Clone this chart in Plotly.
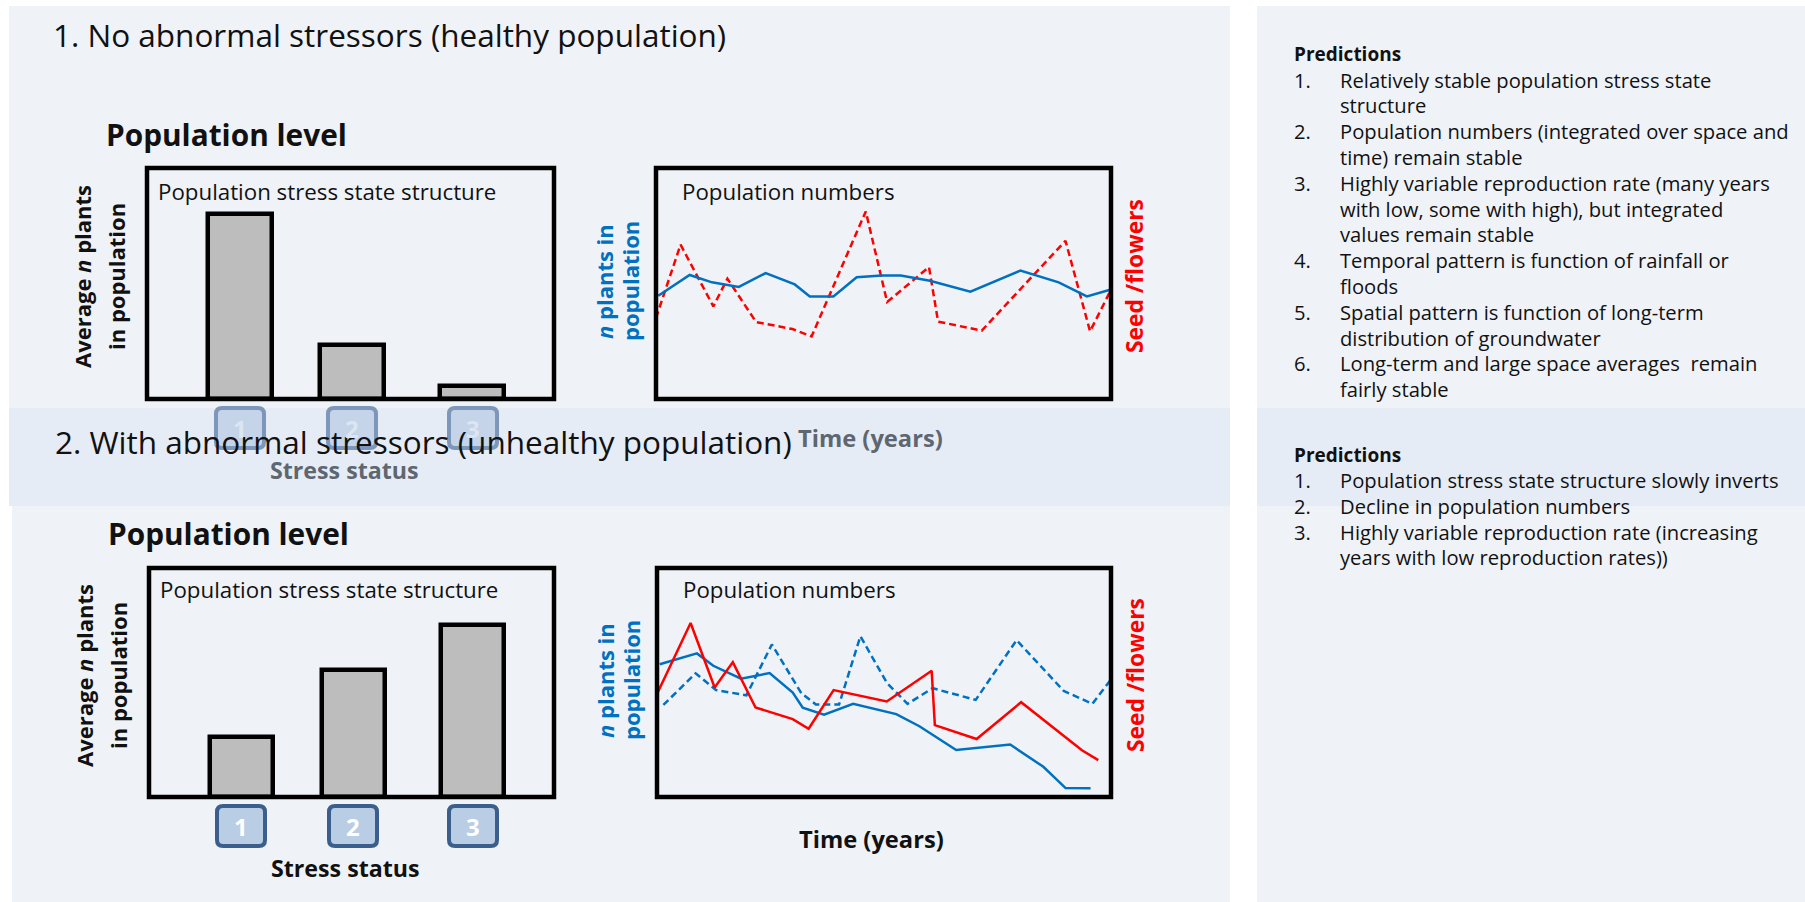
import plotly.graph_objects as go

W, H = 1805, 902

# ---------- data ----------
stress_labels = ["1", "2", "3"]
bar_pos = [22.8, 50.4, 79.9]
bars_healthy = [80, 23.4, 5.8]
bars_unhealthy = [26.3, 55.3, 75]

t_plants_a = [0.5, 7.4, 12.3, 18.2, 24.1, 30.5, 33.8, 39.0, 44.1, 49.6, 53.8, 60.2, 69.1, 80.1, 88.5, 94.7, 99.8]
plants_a = [44.7, 53.7, 50.5, 48.5, 54.5, 49.6, 44.4, 44.4, 52.7, 53.5, 53.5, 51.2, 46.5, 55.6, 50.5, 44.4, 47.3]
t_seed_a = [0, 5.4, 12.6, 15.7, 22.0, 30.0, 34.2, 46.1, 50.8, 60.0, 62.0, 71.6, 90.0, 95.4, 100]
seed_a = [35.1, 66.8, 40.1, 52.1, 33.3, 30.3, 27.1, 81.2, 42.0, 57.1, 33.5, 29.6, 68.5, 29.3, 47.3]

t_plants_b = [0.6, 8.8, 12.4, 18.5, 24.8, 29.9, 32.1, 36.8, 43.2, 49.1, 52.7, 57.8, 65.9, 77.8, 85.1, 90.0, 95.5]
plants_b = [58.0, 62.7, 57.3, 51.7, 54.1, 45.6, 39.0, 35.9, 40.7, 38.1, 36.2, 30.9, 20.5, 22.9, 13.2, 3.9, 3.8]
t_ref_b = [1.4, 8.5, 13.0, 19.7, 25.3, 31.8, 35.0, 40.1, 44.8, 50.7, 55.2, 60.7, 70.2, 79.2, 89.6, 95.9, 101]
ref_b = [40.2, 54.0, 46.7, 44.4, 66.6, 45.3, 40.4, 40.4, 70.2, 49.6, 40.7, 47.5, 42.4, 68.5, 46.3, 40.7, 54.0]
t_seed_b = [0, 7.4, 12.7, 16.7, 21.7, 29.9, 33.4, 38.9, 50.6, 60.5, 61.2, 70.4, 80.2, 87.3, 93.6, 97.2]
seed_b = [45.0, 76.0, 47.8, 58.9, 39.1, 34.0, 29.8, 46.7, 41.7, 55.1, 31.4, 25.3, 41.4, 30.1, 20.4, 16.1]

pred_a = ["Relatively stable population stress state", "structure",
          "Population numbers (integrated over space and", "time) remain stable",
          "Highly variable reproduction rate (many years", "with low, some with high), but integrated", "values remain stable",
          "Temporal pattern is function of rainfall or", "floods",
          "Spatial pattern is function of long-term", "distribution of groundwater",
          "Long-term and large space averages  remain", "fairly stable"]
pred_a_nums = {0: "1.", 2: "2.", 4: "3.", 7: "4.", 9: "5.", 11: "6."}
pred_b = ["Population stress state structure slowly inverts", "Decline in population numbers",
          "Highly variable reproduction rate (increasing", "years with low reproduction rates))"]
pred_b_nums = {0: "1.", 1: "2.", 2: "3."}

# ---------- style ----------
FONT = "Open Sans"
PANEL = "#EFF3F8"
BAND = "#E6ECF5"
BLUE = "#0070C0"
RED = "#FF0000"
INK = "#111111"
GRAY = "#5E6670"

px = lambda v: v / W
py = lambda v: 1 - v / H

fig = go.Figure()
shapes, ann = [], []

def rect(x0, y0, x1, y1, fill, layer="below"):
    shapes.append(dict(type="rect", xref="paper", yref="paper", x0=px(x0), x1=px(x1), y0=py(y1), y1=py(y0),
                       fillcolor=fill, line_width=0, layer=layer))

def text(x, y, s, size, color=INK, bold=False, anchor="left", angle=0):
    if bold:
        s = "<b>" + s + "</b>"
    ann.append(dict(xref="paper", yref="paper", x=px(x), y=py(y), text=s, showarrow=False,
                    xanchor=anchor, yanchor="middle", align="center", textangle=angle, borderpad=0,
                    font=dict(family=FONT, size=size, color=color)))

def badge(cx, cy, fill, edge, digit, txtcol):
    c = 6
    xl, xr, yt, yb = cx - 24, cx + 24, cy - 20, cy + 20
    path = (f"M {px(xl+c)} {py(yt)} L {px(xr-c)} {py(yt)} Q {px(xr)} {py(yt)} {px(xr)} {py(yt+c)} "
            f"L {px(xr)} {py(yb-c)} Q {px(xr)} {py(yb)} {px(xr-c)} {py(yb)} L {px(xl+c)} {py(yb)} "
            f"Q {px(xl)} {py(yb)} {px(xl)} {py(yb-c)} L {px(xl)} {py(yt+c)} Q {px(xl)} {py(yt)} {px(xl+c)} {py(yt)} Z")
    shapes.append(dict(type="path", path=path, xref="paper", yref="paper", fillcolor=fill,
                       line=dict(color=edge, width=4), layer="above"))
    text(cx, cy, digit, 24, txtcol, True, "center")

# backgrounds
rect(9, 6, 1230, 408, PANEL)
rect(9, 408, 1230, 506, BAND)
rect(12, 506, 1230, 902, PANEL)
rect(1257, 6, 1805, 408, PANEL)
rect(1257, 408, 1805, 506, BAND)
rect(1257, 506, 1805, 902, PANEL)

# axes
boxes = [("", 147, 168, 554, 399), ("2", 656, 168, 1111, 399),
         ("3", 149, 568, 554, 797), ("4", 657, 568, 1111, 797)]
for suf, x0, y0, x1, y1 in boxes:
    fig.layout["xaxis" + suf] = dict(domain=[px(x0), px(x1)], range=[0, 100], visible=False, fixedrange=True,
                                     anchor="y" + suf)
    fig.layout["yaxis" + suf] = dict(domain=[py(y1), py(y0)], range=[0, 100], visible=False, fixedrange=True,
                                     anchor="x" + suf)

for vals, xa, ya in [(bars_healthy, "x", "y"), (bars_unhealthy, "x3", "y3")]:
    fig.add_trace(go.Bar(x=bar_pos, y=vals, width=15.6, xaxis=xa, yaxis=ya,
                         marker=dict(color="#BDBDBD", line=dict(color="black", width=4.5))))

def line(tv, v, xa, ya, color, dash="solid"):
    fig.add_trace(go.Scatter(x=tv, y=v, xaxis=xa, yaxis=ya, mode="lines", cliponaxis=False,
                             line=dict(color=color, width=2.5, dash=dash)))

line(t_seed_a, seed_a, "x2", "y2", RED, "7px,4px")
line(t_plants_a, plants_a, "x2", "y2", BLUE)
line(t_ref_b, ref_b, "x4", "y4", BLUE, "7px,4px")
line(t_plants_b, plants_b, "x4", "y4", BLUE)
line(t_seed_b, seed_b, "x4", "y4", RED)

# frames
for suf, *_ in boxes:
    shapes.append(dict(type="rect", xref=f"x{suf} domain", yref=f"y{suf} domain", x0=0, x1=1, y0=0, y1=1,
                       line=dict(color="black", width=4.5), layer="above"))

# titles
text(52, 34, "1. No abnormal stressors (healthy population)", 31.5)
text(54, 441, "2. With abnormal stressors (unhealthy population)", 31.5)
text(105, 134, "Population level", 29.8, INK, True)
text(107, 533, "Population level", 29.8, INK, True)
text(157, 191, "Population stress state structure", 22.3)
text(159, 589, "Population stress state structure", 22.3)
text(681, 191, "Population numbers", 22.3)
text(682, 589, "Population numbers", 22.3)

# rotated labels
for dy, xs in ((0, (82, 116, 604, 630, 1135)), (399, (84, 118, 605, 631, 1135))):
    text(xs[0], 277 + dy, "<b>Average <i>n</i> plants</b>", 22, INK, False, "center", -90)
    text(xs[1], 277 + dy, "<b>in population</b>", 22, INK, False, "center", -90)
    text(xs[2], 282 + dy, "<b><i>n</i> plants in</b>", 22, BLUE, False, "center", -90)
    text(xs[3], 281 + dy, "<b>population</b>", 22, BLUE, False, "center", -90)
    text(xs[4], 276 + dy, "Seed /flowers", 22.8, RED, True, "center", -90)

# badges + axis titles
for cx, d in zip([240, 352, 473], stress_labels):
    badge(cx, 428, "#C5D4E8", "#7C97BA", d, "#DCE6F2")
for cx, d in zip([241, 353, 473], stress_labels):
    badge(cx, 826, "#B9CDE5", "#3B5F8C", d, "white")
text(344, 470, "Stress status", 23.2, GRAY, True, "center")
text(345, 868, "Stress status", 23.2, INK, True, "center")
text(870, 438, "Time (years)", 23.7, GRAY, True, "center")
text(871, 839, "Time (years)", 23.7, INK, True, "center")

# predictions
PRED = 20.2
text(1293, 54, "Predictions", 19, INK, True)
for i, s in enumerate(pred_a):
    y = 79.6 + i * 25.8
    if i in pred_a_nums:
        text(1293, y, pred_a_nums[i], PRED)
    text(1339, y, s, PRED)
text(1293, 455, "Predictions", 19, INK, True)
for i, s in enumerate(pred_b):
    y = 480 + i * 25.8
    if i in pred_b_nums:
        text(1293, y, pred_b_nums[i], PRED)
    text(1339, y, s, PRED)

fig.update_layout(width=W, height=H, margin=dict(l=0, r=0, t=0, b=0), showlegend=False,
                  paper_bgcolor="white", plot_bgcolor="rgba(0,0,0,0)", shapes=shapes, annotations=ann,
                  bargap=0)
fig.write_html("out.html", config={"displayModeBar": False},
               post_script="document.body.style.margin='0';document.documentElement.style.overflow='hidden';")
